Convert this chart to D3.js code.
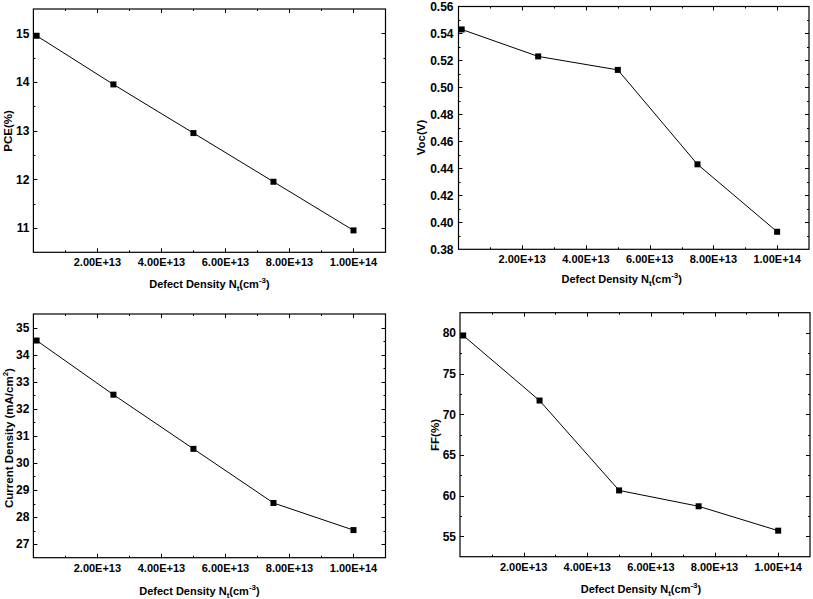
<!DOCTYPE html>
<html>
<head>
<meta charset="utf-8">
<script src="https://cdn.jsdelivr.net/npm/d3@7"></script>
<style>
  html, body { margin: 0; padding: 0; background: #fff; }
  svg { display: block; font-family: "Liberation Sans", Arial, sans-serif; }
</style>
</head>
<body>
<svg id="chart" width="813" height="599"></svg>
<script>
// ---- data ----
const defectDensity = [1e12, 2.5e13, 5e13, 7.5e13, 1e14];
const pce = [14.95, 13.95, 12.95, 11.95, 10.95];
const voc = [0.543, 0.523, 0.513, 0.443, 0.393];
const currentDensity = [34.52, 32.52, 30.52, 28.52, 27.52];
const ff = [79.7, 71.7, 60.65, 58.7, 55.7];

const xTickValues = [2e13, 4e13, 6e13, 8e13, 1e14];
const xTickLabels = ["2.00E+13", "4.00E+13", "6.00E+13", "8.00E+13", "1.00E+14"];
const pceTicks = [11, 12, 13, 14, 15];
const vocTicks = [0.38, 0.40, 0.42, 0.44, 0.46, 0.48, 0.50, 0.52, 0.54, 0.56];
const currentTicks = [27, 28, 29, 30, 31, 32, 33, 34, 35];
const ffTicks = [55, 60, 65, 70, 75, 80];

const svg = d3.select("#chart");

function panel(cfg) {
  const { left, right, top, bottom } = cfg.frame;
  const x = d3.scaleLinear().domain([0, 1.1e14]).range([left, right]);
  const y = d3.scaleLinear().domain(cfg.yDomain).range([bottom, top]);
  const g = svg.append("g");

  const xMinor = d3.range(1e13, 1.1e14, 1e13);
  const yMinor = d3.range(cfg.yDomain[0], cfg.yDomain[1] + 1e-9, cfg.yMinorStep)
    .map(v => +v.toFixed(6));

  // ticks (inward, all 4 sides)
  const tk = g.append("g").attr("stroke", "#000").attr("stroke-width", 1);
  xMinor.forEach(v => {
    const major = xTickValues.some(t => Math.abs(t - v) < 1);
    const len = major ? 4 : 2;
    const px = Math.round(x(v)) + 0.5;
    tk.append("line").attr("x1", px).attr("x2", px).attr("y1", bottom).attr("y2", bottom - len);
    tk.append("line").attr("x1", px).attr("x2", px).attr("y1", top).attr("y2", top + len);
  });
  yMinor.forEach(v => {
    if (v <= cfg.yDomain[0] + 1e-9 || v >= cfg.yDomain[1] - 1e-9) return;
    const major = cfg.yTicks.some(t => Math.abs(t - v) < 1e-6);
    const len = major ? 4 : 2;
    const py = Math.round(y(v)) + 0.5;
    tk.append("line").attr("x1", left).attr("x2", left + len).attr("y1", py).attr("y2", py);
    tk.append("line").attr("x1", right).attr("x2", right - len).attr("y1", py).attr("y2", py);
  });

  // frame
  g.append("rect")
    .attr("x", left).attr("y", top)
    .attr("width", right - left).attr("height", bottom - top)
    .attr("fill", "none").attr("stroke", "#000").attr("stroke-width", 1.2);

  // x tick labels
  g.append("g").selectAll("text").data(xTickValues).join("text")
    .attr("x", d => x(d)).attr("y", bottom + 14)
    .attr("text-anchor", "middle")
    .attr("font-size", 11).attr("font-weight", "bold")
    .text((d, i) => xTickLabels[i]);

  // y tick labels
  g.append("g").selectAll("text").data(cfg.yTicks).join("text")
    .attr("x", left - cfg.yLabelGap).attr("y", d => y(d)).attr("dy", "0.36em")
    .attr("text-anchor", "end")
    .attr("font-size", 12).attr("font-weight", "bold")
    .text(d => cfg.yFormat(d));

  // x title
  const xt = g.append("text")
    .attr("x", (left + right) / 2 + cfg.xTitleDx).attr("y", bottom + cfg.xTitleDy)
    .attr("text-anchor", "middle")
    .attr("font-size", 11).attr("font-weight", "bold");
  xt.append("tspan").text("Defect Density N");
  xt.append("tspan").attr("font-size", 8).attr("dy", 3).text("t");
  xt.append("tspan").attr("dy", -3).text("(cm");
  xt.append("tspan").attr("font-size", 8).attr("dy", -5).text("-3");
  xt.append("tspan").attr("dy", 5).text(")");

  // y title
  const yt = g.append("text")
    .attr("transform", `translate(${cfg.yTitleX},${cfg.yTitleY}) rotate(-90)`)
    .attr("text-anchor", "middle")
    .attr("font-size", 11.5).attr("font-weight", "bold");
  cfg.yTitle.forEach(p => {
    const s = yt.append("tspan").text(p.t);
    if (p.size) s.attr("font-size", p.size);
    if (p.dy) s.attr("dy", p.dy);
  });

  // line
  const pts = defectDensity.map((d, i) => [d, cfg.values[i]]);
  g.append("path")
    .datum(pts)
    .attr("fill", "none").attr("stroke", "#000").attr("stroke-width", 1)
    .attr("d", d3.line().x(d => x(d[0])).y(d => y(d[1])));

  // markers
  g.append("g").selectAll("rect").data(pts).join("rect")
    .attr("x", d => x(d[0]) - 3).attr("y", d => y(d[1]) - 3)
    .attr("width", 6).attr("height", 6).attr("fill", "#000");
}

panel({
  frame: { left: 33.4, right: 385.5, top: 9, bottom: 252.3 },
  yDomain: [10.5, 15.5], yTicks: pceTicks, yMinorStep: 0.5, yLabelGap: 4,
  yFormat: d3.format("d"), values: pce,
  yTitle: [{ t: "PCE(%)" }], yTitleX: 12, yTitleY: 131,
  xTitleDx: 0, xTitleDy: 36
});

panel({
  frame: { left: 458.5, right: 809, top: 6.5, bottom: 249.3 },
  yDomain: [0.38, 0.56], yTicks: vocTicks, yMinorStep: 0.01, yLabelGap: 5,
  yFormat: d3.format(".2f"), values: voc,
  yTitle: [{ t: "Voc(V)" }], yTitleX: 425, yTitleY: 137.5,
  xTitleDx: -12, xTitleDy: 34
});

panel({
  frame: { left: 33.4, right: 385.5, top: 314, bottom: 557.7 },
  yDomain: [26.5, 35.5], yTicks: currentTicks, yMinorStep: 0.5, yLabelGap: 4,
  yFormat: d3.format("d"), values: currentDensity,
  yTitle: [{ t: "Current Density (mA/cm" }, { t: "2", size: 8, dy: -5 }, { t: ")", dy: 5 }],
  yTitleX: 13, yTitleY: 438,
  xTitleDx: -10, xTitleDy: 37
});

panel({
  frame: { left: 460, right: 810, top: 312.7, bottom: 556.7 },
  yDomain: [52.5, 82.5], yTicks: ffTicks, yMinorStep: 2.5, yLabelGap: 4,
  yFormat: d3.format("d"), values: ff,
  yTitle: [{ t: "FF(%)" }], yTitleX: 439, yTitleY: 435,
  xTitleDx: 6, xTitleDy: 36
});
</script>
</body>
</html>
